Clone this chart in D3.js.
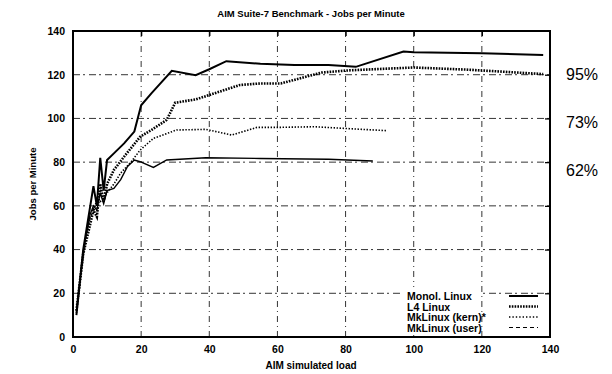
<!DOCTYPE html>
<html><head><meta charset="utf-8">
<script src="https://cdn.jsdelivr.net/npm/d3@7"></script>
<style>
body{margin:0;background:#fff;}
svg{display:block;}
text{font-family:"Liberation Sans Narrow","Liberation Sans",Arial,sans-serif;}
</style></head>
<body>
<svg id="chart" width="612" height="374"></svg>
<script>
const title = "AIM Suite-7 Benchmark - Jobs per Minute";
const xLabel = "AIM simulated load";
const yLabel = "Jobs per Minute";
const xTicks = [0,20,40,60,80,100,120,140];
const yTicks = [0,20,40,60,80,100,120,140];
const seriesNames = ["Monol. Linux","L4 Linux","MkLinux (kern)*","MkLinux (user)"];
const monol = [[1,10],[3,40],[6,69],[7,60],[8,82],[9,67],[10,81],[12,84],[15,88.6],[18,94],[20,106],[23,111.5],[29,121.8],[36,119.8],[40,122.5],[45,126.2],[55,125],[65,124.5],[75,124.5],[83,123.6],[97,130.6],[100,130.3],[120,129.8],[138,129]];
const l4 = [[1,12],[3,38],[6,58],[7,55],[8,70],[9,62],[10,70],[12,76.4],[15,82.5],[19.7,91.6],[23,94.7],[27.5,99.3],[30,107.2],[36,108.7],[40,110.7],[49,115.3],[55,116],[61,116],[73,121],[81,122],[100,123.3],[116,122.3],[138,120.3]];
const kern = [[1,11],[3,37],[5,55],[6,57],[7,63],[8,62],[9,63],[10,66],[12,70],[14,75],[17,80],[19.7,85.5],[23.6,90.9],[30.4,94.7],[39,95],[46.6,92.4],[54,95.9],[60,95.9],[71,96.2],[79,95.5],[92,94.4]];
const user = [[1,12],[3,39],[5,56],[6,60],[7,58],[8,66],[9,61],[10,67],[12,68],[14,72],[16,78],[18,81],[19.7,80.2],[23.6,77.6],[27.5,81],[39,82],[55,81.7],[75,81.3],[88,80.5]];
const pctLabels = ["95%","73%","62%"];
const pctValues = [120,98,76];

const svg = d3.select("#chart");
const L=73,R=550,T=31,B=337;
const x = d3.scaleLinear().domain([0,140]).range([L,R]);
const y = d3.scaleLinear().domain([0,140]).range([B,T]);

// grid
const grid = svg.append("g").attr("stroke","#111").attr("stroke-width",1).attr("fill","none");
yTicks.slice(1,-1).forEach(v=>{
  grid.append("line").attr("x1",L).attr("x2",R).attr("y1",y(v)).attr("y2",y(v))
   .attr("stroke-dasharray","7,3,2,4").attr("opacity",0.85);
});
xTicks.slice(1,-1).forEach(v=>{
  grid.append("line").attr("y1",T).attr("y2",B).attr("x1",x(v)).attr("x2",x(v))
   .attr("stroke-dasharray","6,4,1,4").attr("opacity",0.85);
});

// axes
const fmt = d3.format("d");
const gx = svg.append("g").attr("transform",`translate(0,${B})`)
  .call(d3.axisBottom(x).tickValues(xTicks).tickSize(0).tickPadding(9).tickFormat(fmt));
const gy = svg.append("g").attr("transform",`translate(${L},0)`)
  .call(d3.axisLeft(y).tickValues(yTicks).tickSize(0).tickPadding(8).tickFormat(fmt));
[gx,gy].forEach(g=>{g.select(".domain").remove();
  g.selectAll("text").attr("font-size",10.5).attr("font-weight","bold").attr("fill","#000");});
// top and right inward ticks
svg.append("g").attr("transform",`translate(0,${T})`)
  .call(d3.axisTop(x).tickValues(xTicks.slice(1,-1)).tickSize(-5).tickFormat(""))
  .call(g=>g.select(".domain").remove()).selectAll("line").attr("stroke-width",1.3);
svg.append("g").attr("transform",`translate(${R},0)`)
  .call(d3.axisRight(y).tickValues(yTicks.slice(1,-1)).tickSize(-5).tickFormat(""))
  .call(g=>g.select(".domain").remove()).selectAll("line").attr("stroke-width",1.3);

// lines
const line = d3.line().x(d=>x(d[0])).y(d=>y(d[1]));
const styles = [
  {w:2, dash:null},
  {w:2.6, dash:"1.6,1.2"},
  {w:1.6, dash:"1.4,1.6"},
  {w:1.4, dash:null}
];
[monol,l4,kern,user].forEach((s,i)=>{
  svg.append("path").datum(s).attr("d",line).attr("fill","none")
    .attr("stroke","#000").attr("stroke-width",styles[i].w)
    .attr("stroke-dasharray",styles[i].dash);
});

// legend
const legStyles = [
  {w:2, dash:null},
  {w:2.6, dash:"1.6,1.2"},
  {w:1.4, dash:"1.4,2"},
  {w:1, dash:"4,3"}
];
const lg = svg.append("g");
lg.append("rect").attr("x",400).attr("y",287).attr("width",80).attr("height",48).attr("fill","#fff");
seriesNames.forEach((n,i)=>{
  const yy = 296 + i*10.5;
  lg.append("text").attr("x",407).attr("y",yy+4).text(n)
    .attr("font-size",10.5).attr("font-weight","bold").attr("fill","#000");
  lg.append("line").attr("x1",509).attr("x2",538).attr("y1",yy).attr("y2",yy)
    .attr("stroke","#000").attr("stroke-width",legStyles[i].w)
    .attr("stroke-dasharray",legStyles[i].dash);
});

// frame
svg.append("rect").attr("x",L).attr("y",T).attr("width",R-L).attr("height",B-T)
  .attr("fill","none").attr("stroke","#000").attr("stroke-width",2);

// titles
svg.append("text").attr("x",311).attr("y",17).attr("text-anchor","middle")
  .attr("font-size",9.5).attr("font-weight","bold").text(title);
svg.append("text").attr("x",311).attr("y",369).attr("text-anchor","middle")
  .attr("font-size",10).attr("font-weight","bold").text(xLabel);
svg.append("text").attr("transform",`translate(36,${(T+B)/2}) rotate(-90)`).attr("text-anchor","middle")
  .attr("font-size",9.5).attr("font-weight","bold").text(yLabel);

// percentage labels
pctLabels.forEach((t,i)=>{
  svg.append("text").attr("x",566).attr("y",y(pctValues[i])).attr("dy","0.35em")
    .attr("font-family","Liberation Sans, Arial, sans-serif")
    .attr("font-size",16).attr("fill","#000").text(t);
});
</script>
</body></html>
